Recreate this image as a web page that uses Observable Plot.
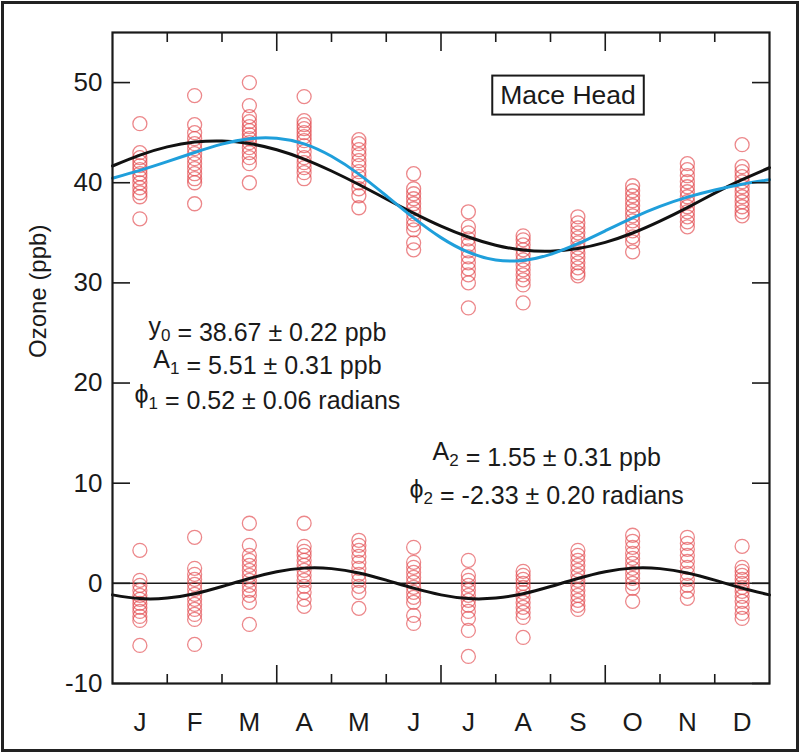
<!DOCTYPE html>
<html>
<head>
<meta charset="utf-8">
<script src="https://cdn.jsdelivr.net/npm/d3@7"></script>
<script src="https://cdn.jsdelivr.net/npm/@observablehq/plot@0.6"></script>
<style>
html, body { margin: 0; padding: 0; background: #fff; }
#wrap { position: relative; width: 800px; height: 753px; }
#wrap svg { display: block; }
#border { position: absolute; left: 1px; top: 1px; width: 798px; height: 751px; box-sizing: border-box; border: 3px solid #222; pointer-events: none; }
</style>
</head>
<body>
<div id="wrap"><div id="border"></div></div>
<script>
// ---- Axis labels / ticks ----
const monthLabels = ["J","F","M","A","M","J","J","A","S","O","N","D"];
const monthIndex = [1,2,3,4,5,6,7,8,9,10,11,12];
const yTicks = [-10, 0, 10, 20, 30, 40, 50];
const minorMonthEdges = [1.5, 2.5, 4.5, 5.5, 7.5, 8.5, 10.5, 11.5];
const majorMonthEdges = [3.5, 6.5, 9.5];

// ---- Monthly mean ozone (ppb), one circle per year ----
const ozoneJan = [45.9, 43.0, 42.5, 42.1, 41.7, 41.3, 40.9, 40.5, 40.0, 39.5, 39.0, 38.6, 36.4];
const ozoneFeb = [48.7, 45.8, 45.0, 44.4, 43.9, 43.4, 42.9, 42.4, 41.9, 41.4, 40.9, 40.4, 40.0, 37.9];
const ozoneMar = [50.0, 47.7, 46.6, 46.1, 45.6, 45.2, 44.8, 44.4, 44.0, 43.5, 43.0, 42.5, 41.9, 40.0];
const ozoneApr = [48.6, 46.2, 45.8, 45.4, 45.0, 44.6, 44.2, 43.7, 43.1, 42.5, 42.0, 41.5, 41.0, 40.4];
const ozoneMay = [44.3, 43.9, 43.3, 42.8, 42.2, 41.7, 41.1, 40.6, 40.0, 39.4, 38.7, 37.5];
const ozoneJun = [40.9, 39.4, 38.9, 38.4, 37.9, 37.4, 36.9, 36.3, 35.8, 35.3, 34.0, 33.3];
const ozoneJul = [37.1, 35.6, 35.0, 34.4, 33.8, 33.2, 32.6, 32.0, 31.4, 30.8, 30.0, 27.5];
const ozoneAug = [34.7, 34.3, 33.8, 33.3, 32.8, 32.3, 31.8, 31.3, 30.8, 30.3, 29.8, 28.0];
const ozoneSep = [36.6, 36.0, 35.5, 35.0, 34.5, 34.0, 33.5, 33.0, 32.5, 32.0, 31.5, 31.0, 30.7];
const ozoneOct = [39.7, 39.2, 38.7, 38.2, 37.7, 37.2, 36.7, 36.2, 35.7, 35.2, 34.6, 34.1, 33.1];
const ozoneNov = [41.9, 41.3, 40.7, 40.1, 39.6, 39.1, 38.6, 38.1, 37.6, 37.1, 36.6, 36.1, 35.6];
const ozoneDec = [43.8, 41.6, 41.1, 40.6, 40.1, 39.6, 39.1, 38.6, 38.1, 37.6, 37.1, 36.7];

// ---- Residuals after first harmonic (ppb) ----
const residJan = [3.3, 0.3, -0.2, -0.7, -1.2, -1.6, -2.0, -2.4, -2.8, -3.3, -3.7, -6.2];
const residFeb = [4.6, 1.5, 0.9, 0.4, -0.1, -0.6, -1.1, -1.6, -2.1, -2.6, -3.1, -3.6, -6.1];
const residMar = [6.0, 3.8, 2.8, 2.3, 1.8, 1.3, 0.8, 0.3, -0.2, -0.7, -1.2, -1.9, -4.1];
const residApr = [6.0, 3.7, 3.2, 2.8, 2.3, 1.8, 1.3, 0.8, 0.3, -0.3, -0.9, -1.6, -2.3];
const residMay = [4.3, 3.8, 3.3, 2.7, 2.1, 1.5, 0.9, 0.3, -0.3, -0.9, -2.5];
const residJun = [3.6, 2.1, 1.6, 1.1, 0.6, 0.1, -0.4, -0.9, -1.4, -1.9, -3.2, -4.0];
const residJul = [2.3, 0.8, 0.3, -0.2, -0.7, -1.2, -1.7, -2.2, -2.8, -3.5, -4.7, -7.3];
const residAug = [1.2, 0.8, 0.4, 0.0, -0.4, -0.9, -1.4, -1.9, -2.4, -2.9, -3.4, -5.4];
const residSep = [3.3, 2.8, 2.3, 1.8, 1.3, 0.8, 0.3, -0.2, -0.7, -1.2, -1.7, -2.2, -2.6];
const residOct = [4.8, 4.2, 3.6, 3.0, 2.5, 2.0, 1.5, 1.0, 0.5, 0.0, -0.5, -1.8];
const residNov = [4.6, 4.0, 3.4, 2.8, 2.2, 1.6, 1.0, 0.4, -0.2, -0.8, -1.5];
const residDec = [3.7, 1.6, 1.2, 0.8, 0.4, 0.0, -0.4, -0.8, -1.3, -1.8, -2.4, -3.0, -3.5];

// ---- Fitted curves, read at half-month steps ----
const fitMonth = [0.5, 1, 1.5, 2, 2.5, 3, 3.5, 4, 4.5, 5, 5.5, 6, 6.5, 7, 7.5, 8, 8.5, 9, 9.5, 10, 10.5, 11, 11.5, 12, 12.5];
const fitFirstHarmonic = [41.67, 42.76, 43.58, 44.06, 44.17, 43.91, 43.29, 42.36, 41.17, 39.82, 38.38, 36.97, 35.67, 34.58, 33.76, 33.28, 33.17, 33.43, 34.05, 34.98, 36.17, 37.52, 38.96, 40.30, 41.50];
const fitTwoHarmonics = [40.45, 41.24, 42.11, 43.02, 43.85, 44.39, 44.44, 43.88, 42.64, 40.86, 38.70, 36.49, 34.52, 33.06, 32.29, 32.24, 32.85, 33.91, 35.20, 36.50, 37.64, 38.56, 39.28, 39.85, 40.30];
const fitSecondHarmonic = [-1.15, -1.52, -1.47, -1.04, -0.32, 0.48, 1.15, 1.52, 1.47, 1.04, 0.32, -0.48, -1.15, -1.52, -1.47, -1.04, -0.32, 0.48, 1.15, 1.52, 1.47, 1.04, 0.32, -0.48, -1.15];

// ---- Annotation texts ----
const stationName = ["Mace Head"];
const fitParamsUpper = ["y\u2080 = 38.67 \u00b1 0.22 ppb", "A\u2081 = 5.51 \u00b1 0.31 ppb", "\u03d5\u2081 = 0.52 \u00b1 0.06 radians"];
const fitParamsLower = ["A\u2082 = 1.55 \u00b1 0.31 ppb", "\u03d5\u2082 = -2.33 \u00b1 0.20 radians"];
const yAxisTitle = ["Ozone (ppb)"];

// ---- Build tables ----
const ozoneByMonth = [ozoneJan, ozoneFeb, ozoneMar, ozoneApr, ozoneMay, ozoneJun, ozoneJul, ozoneAug, ozoneSep, ozoneOct, ozoneNov, ozoneDec];
const residByMonth = [residJan, residFeb, residMar, residApr, residMay, residJun, residJul, residAug, residSep, residOct, residNov, residDec];
const ozonePoints = ozoneByMonth.flatMap((vals, i) => vals.map(v => ({month: monthIndex[i], value: v})));
const residPoints = residByMonth.flatMap((vals, i) => vals.map(v => ({month: monthIndex[i], value: v})));
const curve1 = fitMonth.map((m, i) => ({month: m, value: fitFirstHarmonic[i]}));
const curve12 = fitMonth.map((m, i) => ({month: m, value: fitTwoHarmonics[i]}));
const curve2 = fitMonth.map((m, i) => ({month: m, value: fitSecondHarmonic[i]}));

const FONT = "'Liberation Sans', Arial, Helvetica, sans-serif";
const INK = "#1a1a1a";
const dotStyle = {r: 7, fill: "none", stroke: "#e2474c", strokeOpacity: 0.65, strokeWidth: 1.3};

const chart = Plot.plot({
  width: 800,
  height: 753,
  marginLeft: 112,
  marginRight: 31,
  marginTop: 32,
  marginBottom: 70,
  style: {fontFamily: FONT, fontSize: "26px", color: INK, background: "transparent", overflow: "visible"},
  x: {domain: [0.5, 12.5]},
  y: {domain: [-10, 55]},
  marks: [
    Plot.ruleY([0], {stroke: INK, strokeWidth: 1.5}),
    Plot.dot(ozonePoints, {x: "month", y: "value", ...dotStyle}),
    Plot.dot(residPoints, {x: "month", y: "value", ...dotStyle}),
    Plot.line(curve1, {x: "month", y: "value", stroke: "#111", strokeWidth: 3, curve: "natural"}),
    Plot.line(curve12, {x: "month", y: "value", stroke: "#1f9fdb", strokeWidth: 3, curve: "natural"}),
    Plot.line(curve2, {x: "month", y: "value", stroke: "#111", strokeWidth: 3, curve: "natural"}),
    Plot.frame({stroke: INK, strokeWidth: 2.2}),
    // axes with inward ticks
    Plot.axisY(yTicks, {anchor: "left", tickSize: -18, tickPadding: 28, tickFormat: d => String(d), label: null, fontSize: 26, strokeWidth: 1.6}),
    Plot.axisY(yTicks, {anchor: "right", tickSize: -18, tickFormat: () => "", label: null, strokeWidth: 1.6}),
    Plot.axisX(minorMonthEdges, {anchor: "bottom", tickSize: -9, tickFormat: () => "", label: null, strokeWidth: 1.6}),
    Plot.axisX(majorMonthEdges, {anchor: "bottom", tickSize: -18, tickFormat: () => "", label: null, strokeWidth: 1.6}),
    Plot.axisX(minorMonthEdges, {anchor: "top", tickSize: -9, tickFormat: () => "", label: null, strokeWidth: 1.6}),
    Plot.axisX(majorMonthEdges, {anchor: "top", tickSize: -18, tickFormat: () => "", label: null, strokeWidth: 1.6}),
    Plot.axisX(monthIndex, {anchor: "bottom", tickSize: 0, tickPadding: 29, tickFormat: d => monthLabels[d - 1], label: null, fontSize: 26}),
    // y axis title
    Plot.text(yAxisTitle, {text: d => d, frameAnchor: "left", rotate: -90, dx: -74, fontSize: 24, fill: INK}),
    // annotations
    Plot.text(fitParamsUpper, {text: d => d, x: 3.33, y: (d, i) => [25.6, 22.3, 18.8][i], fontSize: 25, fill: INK, textAnchor: "middle"}),
    Plot.text(fitParamsLower, {text: d => d, x: 8.43, y: (d, i) => [13.1, 9.3][i], fontSize: 25, fill: INK, textAnchor: "middle"}),
    Plot.text(stationName, {text: d => d, x: 8.82, y: 48.75, fontSize: 26.5, fill: INK, textAnchor: "middle"})
  ]
});

document.getElementById("wrap").insertBefore(chart, document.getElementById("border"));

// Post-process: real subscripts, and box around station name
const subMap = {"\u2080": "0", "\u2081": "1", "\u2082": "2"};
chart.querySelectorAll("text").forEach(t => {
  const s = t.textContent;
  if (/[\u2080-\u2082]/.test(s) && t.children.length === 0) {
    t.textContent = "";
    const ns = "http://www.w3.org/2000/svg";
    let buf = "";
    const flush = () => { if (buf) { const sp = document.createElementNS(ns, "tspan"); sp.textContent = buf; t.appendChild(sp); buf = ""; } };
    for (const ch of s) {
      if (subMap[ch]) {
        flush();
        const sub = document.createElementNS(ns, "tspan");
        sub.setAttribute("dy", "6");
        sub.setAttribute("font-size", "17");
        sub.textContent = subMap[ch];
        t.appendChild(sub);
        const back = document.createElementNS(ns, "tspan");
        back.setAttribute("dy", "-6");
        back.textContent = "";
        t.appendChild(back);
      } else buf += ch;
    }
    flush();
  }
  if (s === stationName[0]) {
    const bb = t.getBBox();
    const r = document.createElementNS("http://www.w3.org/2000/svg", "rect");
    const padX = 8, padY = 5;
    r.setAttribute("x", bb.x - padX);
    r.setAttribute("y", bb.y - padY + 1);
    r.setAttribute("width", bb.width + 2 * padX);
    r.setAttribute("height", bb.height + 2 * padY - 1);
    r.setAttribute("fill", "#fff");
    r.setAttribute("stroke", INK);
    r.setAttribute("stroke-width", "2");
    if (t.getAttribute("transform")) r.setAttribute("transform", t.getAttribute("transform"));
    t.parentNode.insertBefore(r, t);
  }
});
</script>
</body>
</html>
